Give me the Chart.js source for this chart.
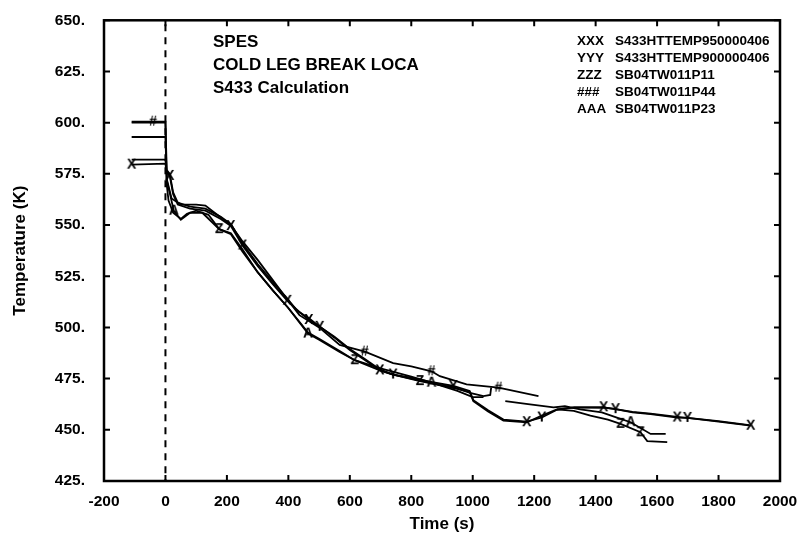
<!DOCTYPE html>
<html>
<head>
<meta charset="utf-8">
<script src="https://cdn.jsdelivr.net/npm/chart.js@4.4.1/dist/chart.umd.min.js"></script>
<style>
  html, body { margin: 0; padding: 0; background: #fff; }
  canvas { display: block; }
</style>
</head>
<body>
<canvas id="tempChart" width="805" height="543"></canvas>
<script>
// legend codes + variable names
const seriesCodes = ['XXX', 'YYY', 'ZZZ', '###', 'AAA'];
const seriesNames = ['S433HTTEMP950000406', 'S433HTTEMP900000406', 'SB04TW011P11', 'SB04TW011P44', 'SB04TW011P23'];
const noteLines = ['SPES', 'COLD LEG BREAK LOCA', 'S433 Calculation'];

const xTicksMin = -200, xTicksMax = 2000, xStep = 200;
const yTicksMin = 425, yTicksMax = 650, yStep = 25;

// S433HTTEMP950000406 (calc)
const xxxT = [-110, 0, 3, 14, 25, 40, 80, 130, 180, 213, 251, 300, 350, 397, 425, 467, 502, 550, 600, 650, 698, 741, 800, 860, 937, 990, 1002, 1050, 1100, 1176, 1225, 1274, 1330, 1383, 1426, 1465, 1520, 1579, 1666, 1699, 1800, 1905];
const xxxK = [579.5, 580, 576, 574, 565, 560, 558, 557, 553, 549.5, 540, 530, 521, 513, 509, 503.6, 500.5, 495, 489, 484, 479, 477, 475, 473, 470.5, 468.5, 464, 459, 454.5, 453.7, 456.9, 460, 461, 460.9, 461, 460.1, 458.5, 457.7, 456, 455.8, 454, 452];
const xxxMarks = [-110, 14, 213, 251, 397, 467, 698, 1176, 1426, 1666, 1905];

// S433HTTEMP900000406 (calc)
const yyyT = [-110, 0, 3, 14, 25, 40, 80, 130, 180, 213, 251, 300, 350, 397, 430, 467, 502, 550, 600, 650, 698, 741, 800, 860, 937, 990, 1002, 1050, 1100, 1176, 1225, 1274, 1330, 1383, 1426, 1465, 1520, 1579, 1666, 1699, 1800, 1900];
const yyyK = [582, 582, 577, 575, 566, 561, 559, 558, 554, 550.5, 541, 531, 522, 514, 508, 504.5, 500.3, 495.5, 489.5, 484.5, 479.5, 477, 475.5, 473.5, 471.4, 469, 464.5, 459.5, 455, 454, 456, 459.8, 461, 461, 460.9, 460.1, 458.8, 457.9, 456.3, 455.8, 454.2, 452.3];
const yyyMarks = [502, 741, 937, 1225, 1465, 1699];

// SB04TW011P11 (exp)
const zzzT = [-110, 0, 4, 10, 25, 50, 70, 100, 140, 175, 213, 251, 300, 350, 400, 464, 500, 567, 616, 698, 741, 828, 893, 937, 991, 1035, 1057, 1060, 1080, 1274, 1329, 1383, 1440, 1481, 1546, 1568, 1633];
const zzzK = [600, 600, 570, 562, 556, 553, 555.5, 557, 555, 548, 545.5, 537, 527, 518, 509.5, 497.5, 494.5, 488.5, 484, 479, 477, 473.8, 471.8, 470.8, 468, 466.5, 467, 470.6, null, 460, 459.3, 456.9, 455, 452.9, 448.8, 444.5, 444];
const zzzMarks = [175, 616, 828, 1481, 1546];

// SB04TW011P44 (exp)
const hashT = [-110, -40, 0, 5, 20, 50, 100, 130, 160, 213, 251, 300, 350, 400, 436, 500, 567, 649, 741, 800, 866, 893, 980, 1084, 1214];
const hashK = [600.5, 600.5, 600.5, 572, 563, 560, 560, 559.5, 556, 550, 542, 533, 523, 513, 506, 500, 491.5, 488.2, 482.6, 481, 478.6, 476.2, 472.2, 470.6, 466.5];
const hashMarks = [-40, 649, 866, 1084];

// SB04TW011P23 (exp)
const aaaT = [-110, 0, 4, 15, 27, 50, 80, 120, 175, 213, 251, 300, 350, 397, 464, 500, 567, 616, 700, 800, 866, 950, 1000, 1035, 1060, 1106, 1180, 1263, 1300, 1350, 1420, 1481, 1514, 1579, 1628];
const aaaK = [593, 593, 572, 565, 557, 552.6, 556, 556, 548, 546, 538, 527, 518, 510, 497, 494, 488, 484, 480, 476, 473, 469, 466, 466, null, 464, 462.5, 461, 461.5, 460, 458.5, 455.3, 453.7, 448, 448];
const aaaMarks = [27, 464, 866, 1514];

const ink = '#000';
const fontFam = "'Liberation Sans', Arial, sans-serif";
Chart.defaults.font.family = fontFam;
Chart.defaults.color = ink;

// letter markers like the plotter used
function glyph(ch) {
    const c = document.createElement('canvas');
    c.width = 16; c.height = 16;
    const g = c.getContext('2d');
    g.font = 'bold 14px ' + fontFam;
    g.textAlign = 'center';
    g.textBaseline = 'middle';
    g.fillStyle = ink;
    g.fillText(ch, 8, 8.5);
    return c;
}

function series(label, t, k, marks, ch) {
    return {
        label: label,
        data: t.map((x, i) => ({ x: x, y: k[i] })),
        borderColor: ink,
        borderWidth: 1.8,
        fill: false,
        tension: 0,
        pointStyle: glyph(ch),
        pointRadius: c => (c.raw && marks.includes(c.raw.x)) ? 3 : 0,
        pointHoverRadius: 0
    };
}

const plotDecor = {
    id: 'plotDecor',
    beforeDatasetsDraw(chart) {
        const { ctx, chartArea: a, scales: { x } } = chart;
        const x0 = x.getPixelForValue(0);
        ctx.save();
        ctx.strokeStyle = ink;
        ctx.lineWidth = 2;
        ctx.setLineDash([7, 6]);
        ctx.beginPath();
        ctx.moveTo(x0, a.top + 4);
        ctx.lineTo(x0, a.bottom);
        ctx.stroke();
        ctx.restore();
    },
    afterDraw(chart) {
        const { ctx, chartArea: a, scales: { x, y } } = chart;
        ctx.save();
        ctx.strokeStyle = ink;
        ctx.lineWidth = 2.5;
        ctx.strokeRect(a.left, a.top, a.right - a.left, a.bottom - a.top);

        // inward tick marks on all four sides
        ctx.lineWidth = 2;
        const tl = 6;
        ctx.beginPath();
        x.ticks.forEach(t => {
            const px = x.getPixelForValue(t.value);
            ctx.moveTo(px, a.bottom); ctx.lineTo(px, a.bottom - tl);
            ctx.moveTo(px, a.top); ctx.lineTo(px, a.top + tl);
        });
        y.ticks.forEach(t => {
            const py = y.getPixelForValue(t.value);
            ctx.moveTo(a.left, py); ctx.lineTo(a.left + tl, py);
            ctx.moveTo(a.right, py); ctx.lineTo(a.right - tl, py);
        });
        ctx.stroke();

        // title block
        ctx.fillStyle = ink;
        ctx.textBaseline = 'middle';
        ctx.textAlign = 'left';
        ctx.font = 'bold 17px ' + fontFam;
        noteLines.forEach((s, i) => ctx.fillText(s, 213, 42 + i * 23));

        // legend
        ctx.font = 'bold 13.5px ' + fontFam;
        seriesCodes.forEach((code, i) => {
            const ly = 41 + i * 17;
            ctx.fillText(code, 577, ly);
            ctx.fillText(seriesNames[i], 615, ly);
        });
        ctx.restore();
    }
};

new Chart(document.getElementById('tempChart'), {
    type: 'line',
    data: {
        datasets: [
            series(seriesNames[0], xxxT, xxxK, xxxMarks, 'X'),
            series(seriesNames[1], yyyT, yyyK, yyyMarks, 'Y'),
            series(seriesNames[2], zzzT, zzzK, zzzMarks, 'Z'),
            series(seriesNames[3], hashT, hashK, hashMarks, '#'),
            series(seriesNames[4], aaaT, aaaK, aaaMarks, 'A')
        ]
    },
    options: {
        responsive: false,
        animation: false,
        events: [],
        layout: {
            padding: { left: 0, top: 15, right: 25, bottom: 0 }
        },
        plugins: {
            legend: { display: false },
            tooltip: { enabled: false }
        },
        scales: {
            x: {
                type: 'linear',
                min: xTicksMin,
                max: xTicksMax,
                grid: { display: false },
                border: { display: false },
                ticks: {
                    stepSize: xStep,
                    padding: 3,
                    maxRotation: 0,
                    color: ink,
                    font: { size: 15.5, weight: 'bold' },
                    callback: v => String(v)
                },
                title: {
                    display: true,
                    text: 'Time (s)',
                    color: ink,
                    padding: { top: 0, bottom: 8 },
                    font: { size: 17, weight: 'bold' }
                },
                afterFit: s => { s.height = 62; }
            },
            y: {
                min: yTicksMin,
                max: yTicksMax,
                grid: { display: false },
                border: { display: false },
                ticks: {
                    stepSize: yStep,
                    padding: 11,
                    color: ink,
                    font: { size: 15.5, weight: 'bold' },
                    callback: v => v + '.'
                },
                title: {
                    display: true,
                    text: 'Temperature (K)',
                    color: ink,
                    padding: { top: 10, bottom: 0 },
                    font: { size: 17, weight: 'bold' }
                },
                afterFit: s => { s.width = 104; }
            }
        }
    },
    plugins: [plotDecor]
});
</script>
</body>
</html>
